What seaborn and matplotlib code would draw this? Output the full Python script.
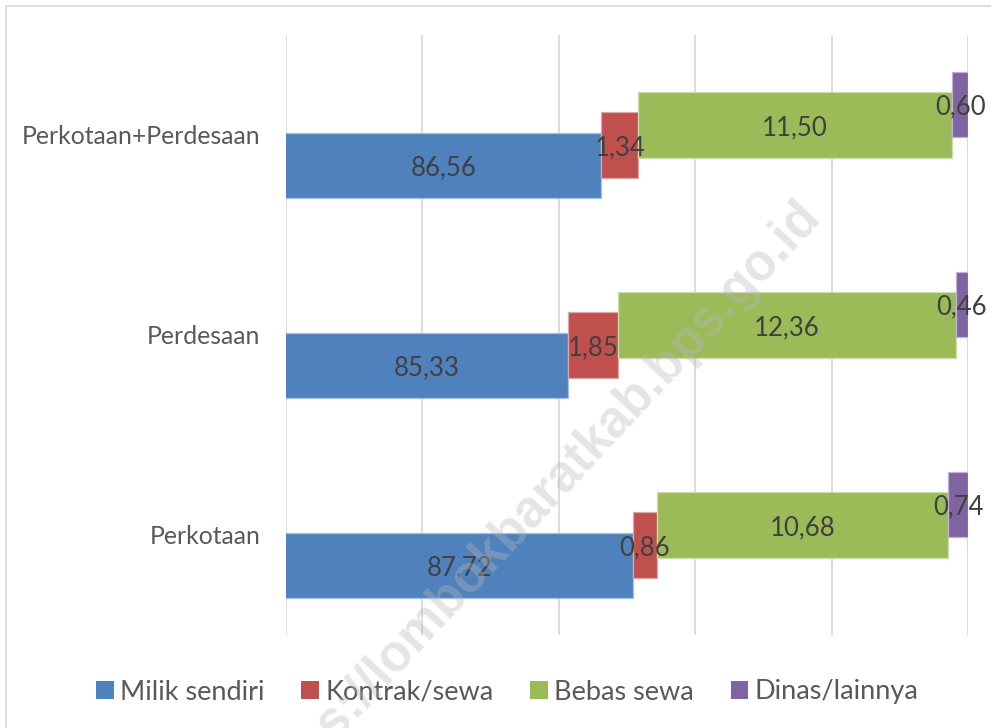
import matplotlib
matplotlib.use("Agg")
import matplotlib.pyplot as plt
from matplotlib.patches import Patch, Rectangle
import seaborn as sns
import numpy as np

# ---- data ----
categories = ["Perkotaan", "Perdesaan", "Perkotaan+Perdesaan"]
series_names = ["Milik sendiri", "Kontrak/sewa", "Bebas sewa", "Dinas/lainnya"]
milik_sendiri = [87.72, 85.33, 86.56]
kontrak_sewa = [0.86, 1.85, 1.34]
bebas_sewa = [10.68, 12.36, 11.50]
dinas_lainnya = [0.74, 0.46, 0.60]
x_ticks = [75, 80, 85, 90, 95, 100]

colors = ["#4F81BD", "#C0504D", "#9BBB59", "#8064A2"]
edge_colors = ["#A7C0DE", "#DFA8A6", "#CDDDAC", "#BFB1D0"]

sns.set_theme(style="white")
plt.rcParams["font.family"] = ["Lato", "DejaVu Sans"]

W, H = 991, 728
fig = plt.figure(figsize=(W / 100, H / 100), dpi=100)
ax_l, ax_r, ax_t, ax_b = 286, 968.3, 35, 635
ax = fig.add_axes([ax_l / W, 1 - ax_b / H, (ax_r - ax_l) / W, (ax_b - ax_t) / H])

xmin, xmax = x_ticks[0], x_ticks[-1]
ax.set_xlim(xmin, xmax)
ax.set_ylim(-0.5, len(categories) - 0.5)

ypos = np.arange(len(categories))
offsets = [-0.1525, -0.0508, 0.0508, 0.1525]
bar_h = 0.3275

all_series = [milik_sendiri, kontrak_sewa, bebas_sewa, dinas_lainnya]
left = np.zeros(len(categories))
for i, vals in enumerate(all_series):
    vals = np.array(vals)
    ax.barh(ypos + offsets[i], vals, left=left, height=bar_h, color=colors[i],
            edgecolor=edge_colors[i], linewidth=0.9, zorder=2)
    for j in range(len(categories)):
        lo = max(left[j], xmin)
        hi = left[j] + vals[j]
        ax.text((lo + hi) / 2, ypos[j] + offsets[i], f"{vals[j]:.2f}".replace(".", ","),
                ha="center", va="center_baseline", fontsize=18.5, color="#404040", zorder=4)
    left = left + vals

ax.set_xticks(x_ticks)
ax.set_xticklabels([])
ax.grid(axis="x", color="#D9D9D9", linewidth=1.3, zorder=0)
ax.grid(axis="y", visible=False)
ax.set_axisbelow(True)
for s in ax.spines.values():
    s.set_visible(False)
ax.set_yticks(ypos)
ax.set_yticklabels(categories, fontsize=17.8, color="#595959")
ax.tick_params(axis="y", length=0, pad=18.5)
ax.tick_params(axis="x", length=0)

handles = [Patch(facecolor=c, edgecolor="none") for c in colors]
fig.legend(handles, series_names, loc="center", bbox_to_anchor=(507.5 / W, 1 - 692 / H),
           ncol=4, frameon=False, fontsize=19.5, labelcolor="#595959",
           handlelength=0.64, handleheight=0.64, handletextpad=0.25, columnspacing=1.35)

# outer chart border
fig.patches.append(Rectangle((5.5 / W, -0.05), 1.2, 1 - 6.5 / H + 0.05, transform=fig.transFigure,
                             fill=False, edgecolor="#D9D9D9", linewidth=1.2))

# watermark
fig.text(812 / W, 1 - 208 / H, "https://lombokbaratkab.bps.go.id", rotation=47,
         rotation_mode="anchor", ha="right", va="center", fontsize=37, fontweight="bold",
         family=["Liberation Sans", "DejaVu Sans"], color=(0.72, 0.72, 0.72), alpha=0.36, zorder=10)

fig.savefig("out.png", dpi=100)
